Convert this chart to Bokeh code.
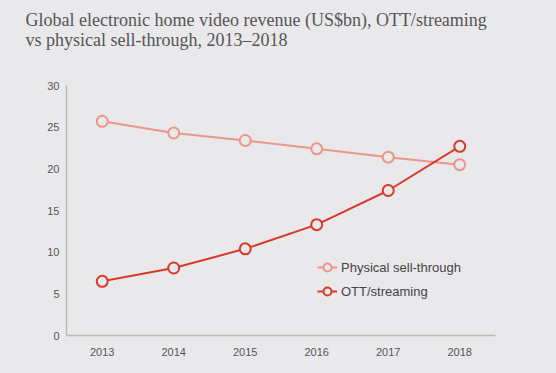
from bokeh.plotting import figure
from bokeh.models import Legend, LegendItem, Range1d, FixedTicker, Title
from bokeh.embed import file_html
from bokeh.resources import INLINE

years = [2013, 2014, 2015, 2016, 2017, 2018]
physical = [25.7, 24.3, 23.4, 22.4, 21.4, 20.5]
ott = [6.5, 8.1, 10.4, 13.3, 17.4, 22.7]
y_ticks = [0, 5, 10, 15, 20, 25, 30]
title_lines = ["Global electronic home video revenue (US$bn), OTT/streaming",
               "vs physical sell-through, 2013\u20132018"]
series_names = ["Physical sell-through", "OTT/streaming"]

BG = "#e9e9eb"
C_PHYS = "#eb968b"
C_OTT = "#d8392b"

p = figure(width=556, height=373, output_backend="svg", toolbar_location=None,
           x_range=Range1d(years[0] - 0.5, years[-1] + 0.5),
           y_range=Range1d(0, 30),
           min_border_left=66, min_border_right=61, min_border_top=85, min_border_bottom=38)
p.background_fill_color = BG
p.border_fill_color = BG
p.outline_line_color = None
p.grid.visible = False

for ax in (p.xaxis[0], p.yaxis[0]):
    ax.axis_line_color = "#bcb8ae"
    ax.axis_line_width = 1.5
    ax.major_tick_line_color = None
    ax.minor_tick_line_color = None
    ax.major_tick_out = 0
    ax.major_tick_in = 0
    ax.minor_tick_out = 0
    ax.minor_tick_in = 0
    ax.major_label_text_font = "Liberation Sans"
    ax.major_label_text_font_size = "11px"
    ax.major_label_text_color = "#555555"

p.xaxis.ticker = FixedTicker(ticks=years)
p.yaxis.ticker = FixedTicker(ticks=y_ticks)
p.xaxis.major_label_standoff = 12
p.yaxis.major_label_standoff = 7

r1l = p.line(years, physical, line_color=C_PHYS, line_width=2)
r1s = p.scatter(years, physical, size=11, fill_color=BG, line_color=C_PHYS, line_width=2)
r2l = p.line(years, ott, line_color=C_OTT, line_width=2)
r2s = p.scatter(years, ott, size=11, fill_color=BG, line_color=C_OTT, line_width=2)

legend = Legend(items=[LegendItem(label=series_names[0], renderers=[r1l, r1s]),
                       LegendItem(label=series_names[1], renderers=[r2l, r2s])],
                location=(251, 34), padding=0, margin=0, spacing=4,
                glyph_width=20, glyph_height=20, label_height=20, label_standoff=4,
                background_fill_alpha=0, border_line_color=None,
                label_text_font="Liberation Sans", label_text_font_size="13px",
                label_text_color="#444444")
p.add_layout(legend, "center")

title_style = dict(align="left", offset=-41, text_font="Liberation Serif",
                   text_font_size="18px", text_font_style="normal", text_color="#555555")
# blank spacer nearest the frame, then second line, then first line
p.add_layout(Title(text=" ", standoff=14, **title_style), "above")
p.add_layout(Title(text=title_lines[1], standoff=0, **title_style), "above")
p.add_layout(Title(text=title_lines[0], standoff=-4, **title_style), "above")

html = file_html(p, INLINE)
css = "<style>html,body{margin:0;padding:0;background:%s;overflow:hidden;}</style>" % BG
html = html.replace("</head>", css + "</head>", 1)
open("out.html", "w").write(html)
